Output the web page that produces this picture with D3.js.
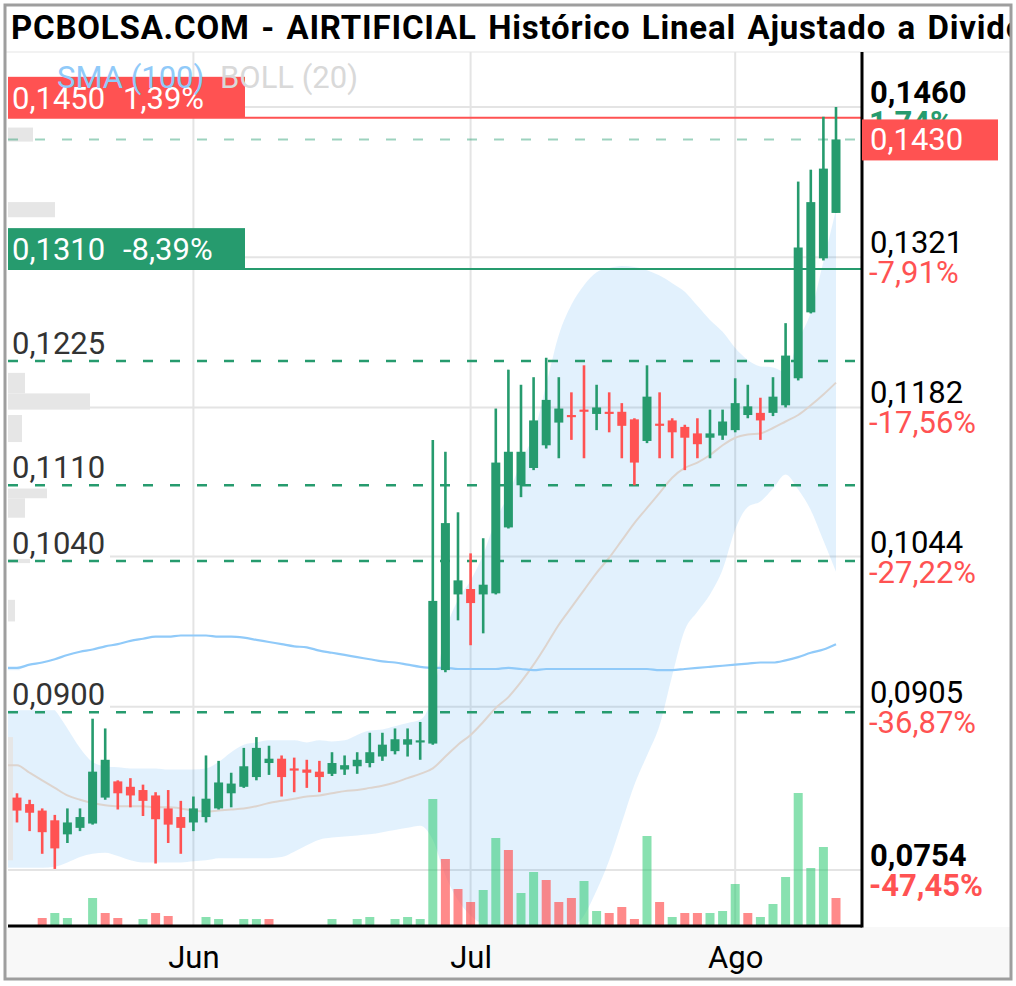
<!DOCTYPE html>
<html><head><meta charset="utf-8">
<script src="https://cdn.jsdelivr.net/npm/d3@7"></script>
<style>
body{margin:0;background:#fff}
svg{display:block}
text{font-family:Roboto,"Noto Sans",sans-serif}
</style>
</head><body>
<svg id="chart" width="1016" height="986"></svg>
<script>
// ---------- DATA ----------
const title = "PCBOLSA.COM - AIRTIFICIAL Histórico Lineal Ajustado a Dividendos";
const open  = [.0821,.0815,.0809,.0800,.0787,.0793,.0797,.0821,.0836,.0831,
               .0828,.0823,.0811,.0803,.0798,.0803,.0811,.0825,.0831,.0840,
               .0853,.0857,.0848,.0847,.0845,.0843,.0847,.0850,.0853,.0859,
               .0864,.0870,.0872,.0871,.0939,.1009,.1014,.1009,.1010,.1071,
               .1110,.1126,.1147,.1168,.1175,.1180,.1176,.1178,.1178,.1171,
               .1151,.1167,.1170,.1164,.1158,.1154,.1156,.1161,.1175,.1177,
               .1177,.1184,.1209,.1270,.1320,.1362];
const high  = [.0825,.0819,.0811,.0805,.0811,.0811,.0894,.0885,.0837,.0839,
               .0833,.0826,.0828,.0818,.0822,.0860,.0855,.0844,.0867,.0877,
               .0869,.0860,.0858,.0856,.0855,.0863,.0860,.0863,.0881,.0881,
               .0885,.0885,.0891,.1152,.1141,.1085,.1047,.1061,.1181,.1217,
               .1203,.1210,.1228,.1210,.1196,.1221,.1203,.1196,.1186,.1172,
               .1221,.1196,.1172,.1166,.1172,.1180,.1180,.1209,.1203,.1191,
               .1210,.1260,.1391,.1402,.1451,.1460];
const low   = [.0798,.0790,.0769,.0755,.0779,.0790,.0796,.0819,.0810,.0812,
               .0804,.0760,.0779,.0769,.0790,.0798,.0810,.0812,.0830,.0837,
               .0842,.0822,.0826,.0830,.0826,.0841,.0842,.0843,.0849,.0855,
               .0861,.0859,.0856,.0870,.0937,.0985,.0962,.0973,.1009,.1070,
               .1099,.1124,.1144,.1135,.1152,.1135,.1161,.1159,.1135,.1110,
               .1149,.1135,.1135,.1124,.1135,.1135,.1152,.1159,.1172,.1152,
               .1174,.1182,.1207,.1269,.1318,.1362];
const close = [.0809,.0807,.0789,.0774,.0798,.0803,.0845,.0856,.0825,.0823,
               .0818,.0801,.0796,.0793,.0811,.0820,.0835,.0834,.0850,.0867,
               .0857,.0840,.0846,.0844,.0840,.0853,.0851,.0856,.0863,.0870,
               .0875,.0875,.0874,.1003,.1075,.1022,.1001,.1018,.1131,.1141,
               .1141,.1170,.1189,.1181,.1173,.1178,.1182,.1176,.1165,.1131,
               .1192,.1165,.1159,.1154,.1148,.1158,.1169,.1186,.1183,.1170,
               .1192,.1230,.1330,.1372,.1403,.1430];
const volume = [0,0,70,120,70,0,270,120,70,0,
                60,120,90,0,0,80,60,0,60,60,
                60,0,0,0,0,60,0,60,80,0,
                60,80,60,1260,660,360,230,350,870,750,
                320,530,450,230,270,440,140,120,180,60,
                890,230,80,120,120,120,140,410,120,80,
                210,480,1320,570,780,270];
const volumeDir = ["","","d","u","u","","u","d","d","",
                   "u","d","d","","","u","u","","u","u",
                   "d","","","","","u","","u","u","",
                   "u","u","u","u","d","d","d","u","u","d",
                   "u","u","d","d","d","u","u","d","d","d",
                   "u","d","u","d","d","u","u","u","d","u",
                   "u","u","u","u","u","d"];
const sma100 = [.0941,.0944,.0946,.0949,.0953,.0956,.0958,.0961,.0963,.0966,
                .0968,.0970,.0970,.0971,.0971,.0971,.0970,.0970,.0969,.0967,
                .0965,.0963,.0961,.0960,.0957,.0955,.0953,.0951,.0949,.0947,
                .0946,.0944,.0942,.0941,.0941,.0940,.0940,.0940,.0940,.0941,
                .0940,.0939,.0940,.0940,.0940,.0940,.0940,.0940,.0940,.0940,
                .0940,.0939,.0939,.0940,.0941,.0942,.0943,.0944,.0945,.0946,
                .0946,.0948,.0951,.0955,.0958,.0963];
const bollUpper = [.0941,.0925,.0913,.0902,.0885,.0867,.0854,.0850,.0849,.0848,
                   .0848,.0848,.0847,.0847,.0847,.0848,.0854,.0863,.0870,.0872,
                   .0874,.0874,.0874,.0872,.0874,.0873,.0874,.0879,.0883,.0884,
                   .0887,.0890,.0893,.0915,.0974,.1004,.1022,.1046,.1078,.1101,
                   .1132,.1157,.1203,.1249,.1277,.1295,.1307,.1311,.1313,.1312,
                   .1309,.1304,.1297,.1289,.1276,.1263,.1252,.1237,.1226,.1220,
                   .1219,.1215,.1244,.1270,.1317,.1365];
const bollMid = [.0851,.0844,.0837,.0830,.0823,.0819,.0816,.0814,.0813,.0813,
                 .0813,.0812,.0812,.0811,.0809,.0808,.0809,.0810,.0811,.0813,
                 .0816,.0818,.0820,.0822,.0823,.0825,.0827,.0828,.0830,.0832,
                 .0835,.0839,.0843,.0848,.0859,.0870,.0879,.0891,.0904,.0914,
                 .0928,.0944,.0962,.0981,.0997,.1013,.1029,.1043,.1059,.1075,
                 .1089,.1103,.1117,.1126,.1131,.1138,.1147,.1154,.1157,.1158,
                 .1163,.1169,.1175,.1184,.1194,.1205];
const bollLower = [.0756,.0756,.0756,.0757,.0761,.0766,.0769,.0770,.0767,.0763,
                   .0761,.0761,.0761,.0761,.0762,.0763,.0765,.0765,.0765,.0765,
                   .0765,.0766,.0771,.0777,.0782,.0784,.0785,.0786,.0787,.0789,
                   .0791,.0793,.0795,.0782,.0749,.0726,.0712,.0703,.0694,.0689,
                   .0689,.0691,.0694,.0697,.0700,.0712,.0735,.0763,.0798,.0833,
                   .0860,.0888,.0934,.0976,.0993,.1009,.1032,.1069,.1090,.1095,
                   .1107,.1120,.1106,.1087,.1059,.1030];
// volume-by-price profile (left edge)
const profileLow  = [.1428,.1358,.1195,.1180,.1150,.1098,.1080,.1038,.0984,.0763];
const profileHigh = [.1441,.1372,.1214,.1195,.1175,.1107,.1098,.1045,.1004,.0877];
const profileVol  = [25,47,17,82,14,39,17,22,7,5];
// axis ticks
const monthIndex  = [14,36,57];
const monthLabels = ["Jun","Jul","Ago"];
const rightTickValues = [0.1460,0.1321,0.1182,0.1044,0.0905,0.0754];
const rightTickLabels = ["0,1460","0,1321","0,1182","0,1044","0,0905","0,0754"];
const rightTickPct    = ["1,74%","-7,91%","-17,56%","-27,22%","-36,87%","-47,45%"];
// support / resistance levels
const levelValues = [0.1225,0.1110,0.1040,0.0900];
const levelLabels = ["0,1225","0,1110","0,1040","0,0900"];
const lastPrice = 0.1430, lastLabel = "0,1430";
const resistance = {value:0.1450, label:"0,1450", pct:"1,39%"};
const support    = {value:0.1310, label:"0,1310", pct:"-8,39%"};

// ---------- DRAW ----------
const GREEN="#269b6e", RED="#ff5252";
const svg=d3.select("#chart");
const P={left:8,right:862,top:52,bottom:926};
const x=d3.scalePoint().domain(d3.range(close.length)).range([17,836]);
const y=d3.scaleLinear().domain([0.07022,0.15109]).range([P.bottom,P.top]);
const yVol=d3.scaleLinear().domain([0,1500]).range([925,775]);
const wProf=d3.scaleLinear().domain([0,100]).range([0,100]);

svg.append("rect").attr("width",1016).attr("height",986).attr("fill","#fff");
svg.append("rect").attr("x",6).attr("y",927).attr("width",1005).attr("height",52).attr("fill","#f8f8f8");
svg.append("line").attr("x1",6).attr("x2",1011).attr("y1",P.top).attr("y2",P.top).attr("stroke","#eeeeee").attr("stroke-width",1.5);

svg.append("clipPath").attr("id","plotclip").append("rect")
  .attr("x",P.left).attr("y",P.top).attr("width",P.right-P.left).attr("height",P.bottom-P.top);
const g=svg.append("g").attr("clip-path","url(#plotclip)");

// grid
g.selectAll(".hg").data(rightTickValues).join("line")
  .attr("x1",P.left).attr("x2",P.right).attr("y1",d=>y(d)).attr("y2",d=>y(d))
  .attr("stroke","#e4e4e4").attr("stroke-width",2);
g.selectAll(".vg").data(monthIndex).join("line")
  .attr("x1",d=>x(d)).attr("x2",d=>x(d)).attr("y1",P.top).attr("y2",P.bottom)
  .attr("stroke","#e4e4e4").attr("stroke-width",2);

// indicator paths run from the plot's left edge (series continue off-screen to the left)
const idx=d3.range(close.length);
const pts=[{px:P.left,i:0}].concat(idx.map(i=>({px:x(i),i})));

// bollinger band
g.append("path").datum(pts)
  .attr("d",d3.area().x(d=>d.px).y0(d=>y(bollLower[d.i])).y1(d=>y(bollUpper[d.i])).curve(d3.curveMonotoneX))
  .attr("fill","rgba(33,150,243,0.13)");

// volume profile
g.selectAll(".prof").data(profileVol).join("rect")
  .attr("x",P.left).attr("y",(d,i)=>y(profileHigh[i]))
  .attr("width",d=>wProf(d)).attr("height",(d,i)=>y(profileLow[i])-y(profileHigh[i]))
  .attr("fill","#e6e6e6");

// volume bars
g.selectAll(".vol").data(idx.filter(i=>volume[i]>0)).join("rect")
  .attr("x",i=>x(i)-4.5).attr("width",9)
  .attr("y",i=>yVol(volume[i])).attr("height",i=>yVol(0)-yVol(volume[i]))
  .attr("fill",i=>volumeDir[i]==="u"?"rgba(40,200,112,0.55)":"rgba(255,82,82,0.68)");

// moving averages
g.append("path").datum(pts)
  .attr("d",d3.line().x(d=>d.px).y(d=>y(bollMid[d.i])).curve(d3.curveMonotoneX))
  .attr("fill","none").attr("stroke","#ddd4ce").attr("stroke-width",2);
g.append("path").datum(pts)
  .attr("d",d3.line().x(d=>d.px).y(d=>y(sma100[d.i])).curve(d3.curveMonotoneX))
  .attr("fill","none").attr("stroke","#90caf9").attr("stroke-width",2.2);

// dashed levels
g.selectAll(".lvl").data(levelValues).join("line")
  .attr("x1",P.left).attr("x2",P.right).attr("y1",d=>y(d)).attr("y2",d=>y(d))
  .attr("stroke",GREEN).attr("stroke-width",2.5).attr("stroke-dasharray","10 17");
g.append("line").attr("x1",P.left).attr("x2",P.right).attr("y1",y(lastPrice)).attr("y2",y(lastPrice))
  .attr("stroke","rgba(38,155,110,0.45)").attr("stroke-width",2).attr("stroke-dasharray","10 17");
g.append("line").attr("x1",P.left).attr("x2",P.right).attr("y1",y(resistance.value)).attr("y2",y(resistance.value))
  .attr("stroke",RED).attr("stroke-width",2);
g.append("line").attr("x1",P.left).attr("x2",P.right).attr("y1",y(support.value)).attr("y2",y(support.value))
  .attr("stroke",GREEN).attr("stroke-width",2);

// candles
const cg=g.selectAll(".candle").data(idx).join("g");
cg.append("line").attr("x1",i=>x(i)).attr("x2",i=>x(i))
  .attr("y1",i=>y(high[i])).attr("y2",i=>y(low[i]))
  .attr("stroke",i=>close[i]>=open[i]?GREEN:RED).attr("stroke-width",2.6);
cg.append("rect").attr("x",i=>x(i)-4.5).attr("width",9)
  .attr("y",i=>y(Math.max(open[i],close[i])))
  .attr("height",i=>Math.max(1.5,Math.abs(y(open[i])-y(close[i]))))
  .attr("fill",i=>close[i]>=open[i]?GREEN:RED);

// left level labels with white background
const ll=svg.append("g");
levelValues.forEach((v,i)=>{
  ll.append("rect").attr("x",P.left).attr("y",y(v)-42).attr("width",102).attr("height",40).attr("fill","#fff");
  ll.append("text").attr("x",12).attr("y",y(v)-7).attr("font-size",31).attr("fill","#333").text(levelLabels[i]);
});

// resistance / support boxes
[[resistance,RED],[support,GREEN]].forEach(([o,c])=>{
  const yy=y(o.value);
  svg.append("rect").attr("x",P.left).attr("y",yy-41).attr("width",237).attr("height",41).attr("fill",c);
  svg.append("text").attr("x",12).attr("y",yy-9).attr("font-size",31).attr("fill","#fff").text(o.label);
  svg.append("text").attr("x",123).attr("y",yy-9).attr("font-size",31).attr("fill","#fff").text(o.pct);
});

// legend
svg.append("text").attr("x",57).attr("y",88).attr("font-size",31).attr("fill","#90caf9").text("SMA (100)");
svg.append("text").attr("x",220).attr("y",88).attr("font-size",31).attr("fill","#d9d9d9").text("BOLL (20)");

// axes lines
svg.append("line").attr("x1",P.right).attr("x2",P.right).attr("y1",P.top).attr("y2",P.bottom+1.5)
  .attr("stroke","#000").attr("stroke-width",3);
svg.append("line").attr("x1",P.left).attr("x2",P.right).attr("y1",P.bottom).attr("y2",P.bottom)
  .attr("stroke","#000").attr("stroke-width",3);

// right axis labels
const ra=svg.append("g");
rightTickValues.forEach((v,i)=>{
  const bold=(i===0||i===rightTickValues.length-1);
  ra.append("text").attr("x",870).attr("y",y(v)-4).attr("font-size",31)
    .attr("font-weight",bold?700:400).attr("fill","#000").text(rightTickLabels[i]);
  ra.append("text").attr("x",869).attr("y",y(v)+26).attr("font-size",31)
    .attr("font-weight",bold?700:400).attr("fill",i===0?GREEN:RED).text(rightTickPct[i]);
});
// last price box
svg.append("rect").attr("x",P.right).attr("y",y(lastPrice)-20).attr("width",136).attr("height",41).attr("fill",RED);
svg.append("text").attr("x",870).attr("y",y(lastPrice)+11).attr("font-size",31).attr("fill","#fff").text(lastLabel);

// bottom axis (months)
const xAxis=d3.axisBottom(x).tickValues(monthIndex).tickFormat((d,i)=>monthLabels[i]).tickSize(0).tickPadding(0);
const xa=svg.append("g").attr("transform",`translate(0,${P.bottom})`).call(xAxis);
xa.select(".domain").remove();
xa.selectAll("text").attr("font-size",31).attr("fill","#000").attr("dy",0).attr("y",42)
  .attr("font-family","Roboto, 'Noto Sans', sans-serif");

// title
svg.append("clipPath").attr("id","tclip").append("rect").attr("x",6).attr("y",6).attr("width",1004).attr("height",46);
svg.append("text").attr("clip-path","url(#tclip)").attr("x",11).attr("y",39)
  .attr("font-family","'Open Sans','Noto Sans',sans-serif").attr("font-weight",700).attr("font-size",33)
  .attr("letter-spacing",0.8).attr("word-spacing",2.5).attr("fill","#000").text(title);

// outer frame
svg.append("rect").attr("x",5).attr("y",5).attr("width",1006).attr("height",974)
  .attr("fill","none").attr("stroke","#9e9e9e").attr("stroke-width",3);
</script>
</body></html>
